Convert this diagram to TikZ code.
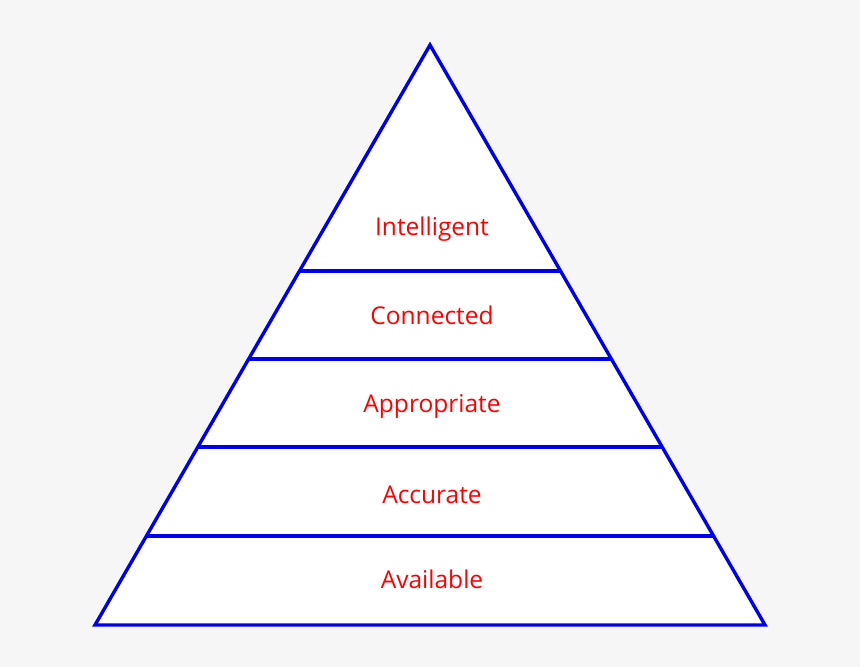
\documentclass[tikz,border=0pt]{standalone}
\usepackage{fontspec}
\setmainfont{Open Sans}
\definecolor{bg}{HTML}{F6F6F6}
\definecolor{pblue}{HTML}{0000F0}
\definecolor{pred}{HTML}{FF0000}
\begin{document}
\begin{tikzpicture}[x=1pt,y=-1pt,
  edge/.style={draw=pblue,line width=3.4pt},
  lbl/.style={text=pred,font=\fontsize{24.5}{28}\selectfont}]
\fill[bg] (0,0) rectangle (860,667);
\useasboundingbox (0,0) rectangle (860,667);
\fill[white] (430,45) -- (95,625) -- (765,625) -- cycle;
\coordinate (apex) at (430,45);
\coordinate (bl) at (95,625);
\coordinate (br) at (765,625);
\draw[edge,line join=miter] (apex) -- (bl) -- (br) -- cycle;
\draw[edge] (300,271) -- (560,271);
\draw[edge] (249,359) -- (611,359);
\draw[edge] (198,447) -- (662,447);
\draw[edge] (147,536) -- (713,536);
\node[lbl] (t1) at (432,229) {Intelligent};
\node[lbl] (t2) at (432,315) {Connected};
\node[lbl] (t3) at (432,406) {Appropriate};
\node[lbl] (t4) at (432,495) {Accurate};
\node[lbl] (t5) at (432,579) {Available};
\end{tikzpicture}
\end{document}
